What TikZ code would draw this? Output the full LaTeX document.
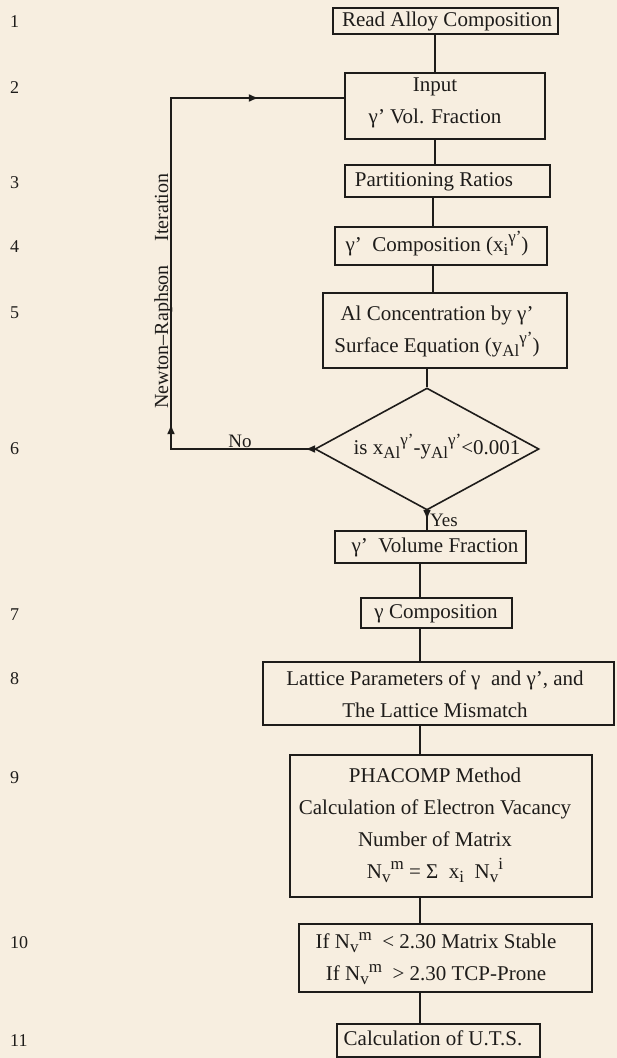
\documentclass[tikz,border=0pt]{standalone}
\usepackage{fontspec}
\setmainfont{Liberation Serif}
\usetikzlibrary{shapes.geometric,arrows.meta,decorations.markings}
\definecolor{paper}{RGB}{247,238,224}
\definecolor{ink}{RGB}{30,28,26}
\newcommand{\myLo}[1]{\raisebox{-0.45ex}{\fontsize{17}{17}\selectfont #1}}
\newcommand{\myHi}[1]{\raisebox{0.85ex}{\fontsize{17}{17}\selectfont #1}}
\newcommand{\gp}{γ'}
\tikzset{
  box/.style={draw=ink, line width=1.6pt, inner sep=0pt, rectangle},
  txt/.style={inner sep=0pt, align=center, text=ink, font=\fontsize{21}{32}\selectfont},
  txtone/.style={txt, text height=14pt, text depth=4pt},
  conn/.style={draw=ink, line width=1.6pt},
  num/.style={inner sep=0pt, anchor=west, text=ink, font=\fontsize{18}{20}\selectfont, text height=12pt, text depth=0pt},
  lbl/.style={inner sep=0pt, text=ink, font=\fontsize{19}{20}\selectfont},
  tip/.tip={Latex[length=10pt,width=8pt]}
}
\begin{document}
\begin{tikzpicture}[x=1pt,y=-1pt]
\fill[paper] (0,0) rectangle (617,1058);
\useasboundingbox (0,0) rectangle (617,1058);

% step numbers
\node[num] (n1) at (10,21) {1};
\node[num] (n2) at (10,87) {2};
\node[num] (n3) at (10,182) {3};
\node[num] (n4) at (10,246) {4};
\node[num] (n5) at (10,312) {5};
\node[num] (n6) at (10,448) {6};
\node[num] (n7) at (10,614) {7};
\node[num] (n8) at (10,678) {8};
\node[num] (n9) at (10,777) {9};
\node[num] (n10) at (10,942) {10};
\node[num] (n11) at (10,1040) {11};

% boxes
\node[box, minimum width=225pt, minimum height=26pt] (b1) at (445.5,21) {};
\node[txtone] (t1) at (447,21) {Read Alloy Composition};

\node[box, minimum width=200pt, minimum height=66pt] (b2) at (445,106) {};
\node[txt] (t2) at (435,103) {Input\\\gp\ Vol. Fraction};

\node[box, minimum width=205pt, minimum height=32pt] (b3) at (447.5,181) {};
\node[txtone] (t3) at (434,181) {Partitioning Ratios};

\node[box, minimum width=212pt, minimum height=38pt] (b4) at (441,246) {};
\node[txtone] (t4) at (437,246) {\gp\ \ Composition (x\myLo{i}\myHi{γ'})};

\node[box, minimum width=244pt, minimum height=75pt] (b5) at (445,330.5) {};
\node[txt] (t5) at (437,331) {Al Concentration by \gp\\Surface Equation (y\myLo{Al}\myHi{γ'})};

\node[diamond, draw=ink, line width=1.6pt, inner sep=0pt, minimum width=224pt, minimum height=122pt] (dia) at (427,449) {};
\node[txtone] (td) at (437,449) {is x\myLo{Al}\myHi{γ'}-y\myLo{Al}\myHi{γ'}<0.001};

\node[box, minimum width=191pt, minimum height=32pt] (b7) at (430.5,547) {};
\node[txtone] (t7) at (435,547) {\gp\ \ Volume Fraction};

\node[box, minimum width=151pt, minimum height=30pt] (b8) at (436.5,613) {};
\node[txtone] (t8) at (436,613) {γ Composition};

\node[box, minimum width=351pt, minimum height=63pt] (b9) at (438.5,693.5) {};
\node[txt] (t9) at (435,694) {Lattice Parameters of γ\ \ and \gp, and\\The Lattice Mismatch};

\node[box, minimum width=302pt, minimum height=142pt] (b10) at (441,826) {};
\node[txt] (t10) at (435,825) {PHACOMP Method\\Calculation of Electron Vacancy\\Number of Matrix\\N\myLo{v}\myHi{m} = Σ\ \ x\myLo{i}\ \ N\myLo{v}\myHi{i}};

\node[box, minimum width=293pt, minimum height=68pt] (b11) at (445.5,958) {};
\node[txt] (t11) at (436,958.5) {If N\myLo{v}\myHi{m}\ \ < 2.30 Matrix Stable\\If N\myLo{v}\myHi{m}\ \ > 2.30 TCP-Prone};

\node[box, minimum width=203pt, minimum height=33pt] (b12) at (438.5,1040.5) {};
\node[txtone] (t12) at (433,1040) {Calculation of U.T.S.};

% labels
\node[lbl, rotate=90, anchor=base, font=\fontsize{20}{22}\selectfont] (nr) at (168,291) {Newton--Raphson\hspace{1.2em}Iteration};
\node[lbl] (no) at (240,441) {No};
\node[lbl] (yes) at (444,520) {Yes};

% connector x positions
\coordinate (xa) at (435,0);
\coordinate (xb) at (433,0);
\coordinate (xc) at (420,0);
\coordinate (c1) at (171,449);
\coordinate (c2) at (171,98);

\draw[conn] (b1.south -| xa) -- (b2.north -| xa);
\draw[conn] (b2.south -| xa) -- (b3.north -| xa);
\draw[conn] (b3.south -| xb) -- (b4.north -| xb);
\draw[conn] (b4.south -| xb) -- (b5.north -| xb);
\draw[conn] (b5.south -| dia.north) -- (dia.north);
\draw[conn, postaction={decorate}, decoration={markings, mark=at position 9pt with {\arrow{tip}}}]
  (dia.south) -- (b7.north -| dia.south);
\draw[conn] (b7.south -| xc) -- (b8.north -| xc);
\draw[conn] (b8.south -| xc) -- (b9.north -| xc);
\draw[conn] (b9.south -| xc) -- (b10.north -| xc);
\draw[conn] (b10.south -| xc) -- (b11.north -| xc);
\draw[conn] (b11.south -| xc) -- (b12.north -| xc);

% Newton-Raphson loop
\draw[conn, postaction={decorate}, decoration={markings,
    mark=at position 9pt with {\arrow{tip}},
    mark=at position 168pt with {\arrow{tip}},
    mark=at position 582pt with {\arrow{tip}}}]
  (dia.west) -- (c1) -- (c2) -- (c2 -| b2.west);
\end{tikzpicture}
\end{document}
